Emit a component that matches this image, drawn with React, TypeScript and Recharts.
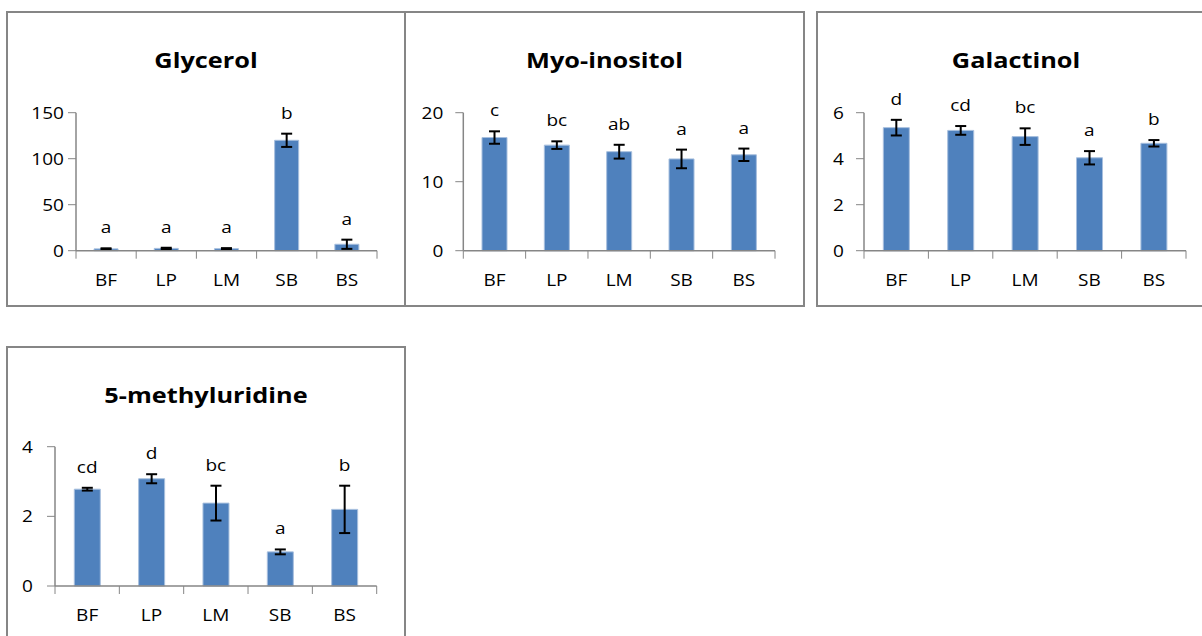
import React from "react";
import { ComposedChart, Bar, Line, XAxis, YAxis, ErrorBar, LabelList } from "recharts";

const groups = ["BF", "LP", "LM", "SB", "BS"];

const glycerolMean = [2.0, 2.5, 2.2, 120, 7];
const glycerolErr = [0.6, 0.7, 0.6, 7.2, 5];
const glycerolLetters = ["a", "a", "a", "b", "a"];
const glycerolTicks = [0, 50, 100, 150];

const myoMean = [16.4, 15.3, 14.35, 13.3, 13.9];
const myoErr = [0.9, 0.55, 1.0, 1.35, 0.9];
const myoLetters = ["c", "bc", "ab", "a", "a"];
const myoTicks = [0, 10, 20];

const galMean = [5.35, 5.23, 4.96, 4.04, 4.67];
const galErr = [0.34, 0.19, 0.36, 0.29, 0.14];
const galLetters = ["d", "cd", "bc", "a", "b"];
const galTicks = [0, 2, 4, 6];

const muMean = [2.78, 3.08, 2.38, 0.98, 2.2];
const muErr = [0.04, 0.13, 0.5, 0.07, 0.68];
const muLetters = ["cd", "d", "bc", "a", "b"];
const muTicks = [0, 2, 4];

const FONT = "'Open Sans', 'DejaVu Sans', sans-serif";
const GRAY = "#868686";
const BLUE = "#4F81BD";
const STRETCH = 1.12; // the text in these charts is set slightly wide

// plain text, widened around its anchor point
function WideText({ x, y, anchor, children, dy }: any) {
  return (
    <text
      transform={`translate(${x},${y}) scale(${STRETCH},1)`}
      textAnchor={anchor}
      dy={dy}
      fontSize={17}
      fontFamily={FONT}
      fill="#000"
    >
      {children}
    </text>
  );
}

type PanelProps = {
  title: string;
  mean: number[];
  err: number[];
  letters: string[];
  ticks: number[];
  box: number[]; // x, y, w, h of the framed panel
  plot: number[]; // left, top, right, bottom of the plot area
  labelGap: number;
};

function Panel({ title, mean, err, letters, ticks, box, plot, labelGap }: PanelProps) {
  const [bx, by, bw, bh] = box;
  const [px0, py0, px1, py1] = plot;
  const rows = groups.map((g, i) => ({
    group: g,
    mean: mean[i],
    err: err[i],
    top: mean[i] + err[i],
    letter: letters[i],
  }));
  const band = (px1 - px0) / groups.length;
  const axisY = py1 - by;

  const GroupTick = (props: any) => {
    const { x, payload, index } = props;
    return (
      <g>
        <line x1={x - band / 2} x2={x - band / 2} y1={axisY} y2={axisY + 8} stroke={GRAY} />
        {index === groups.length - 1 && (
          <line x1={x + band / 2} x2={x + band / 2} y1={axisY} y2={axisY + 8} stroke={GRAY} />
        )}
        <WideText x={x} y={axisY + 35} anchor="middle">
          {payload.value}
        </WideText>
      </g>
    );
  };

  const ValueTick = (props: any) => {
    const { x, y, payload } = props;
    return (
      <WideText x={x} y={y} anchor="end" dy="0.355em">
        {payload.value}
      </WideText>
    );
  };

  const Letter = (props: any) => {
    const vb = props.viewBox || {};
    const cx = (vb.x ?? props.x) + (vb.width || 0) / 2;
    const cy = vb.y ?? props.y;
    return (
      <WideText x={cx} y={cy - 15} anchor="middle">
        {props.value}
      </WideText>
    );
  };

  return (
    <>
      <div
        style={{
          position: "absolute",
          left: bx,
          top: by + 33,
          width: bw,
          textAlign: "center",
          fontFamily: FONT,
          fontWeight: 700,
          fontSize: 22,
          lineHeight: "30px",
          color: "#000",
          transform: "scaleX(1.15)",
        }}
      >
        {title}
      </div>
      <div style={{ position: "absolute", left: bx, top: by }}>
        <ComposedChart
          width={bw}
          height={bh}
          data={rows}
          margin={{ top: py0 - by, right: bx + bw - px1, bottom: 0, left: 0 }}
          barCategoryGap="30%"
        >
          <XAxis
            dataKey="group"
            height={by + bh - py1}
            axisLine={{ stroke: GRAY, strokeWidth: 1.5 }}
            tickLine={false}
            tickSize={8}
            tickMargin={0}
            tick={<GroupTick />}
            interval={0}
          />
          <YAxis
            width={px0 - bx}
            domain={[0, ticks[ticks.length - 1]]}
            ticks={ticks}
            axisLine={{ stroke: GRAY, strokeWidth: 1.5 }}
            tickLine={{ stroke: GRAY }}
            tickSize={8}
            tickMargin={labelGap}
            tick={<ValueTick />}
          />
          <Bar dataKey="mean" fill={BLUE} stroke="#A7BFDE" strokeWidth={1} isAnimationActive={false}>
            <ErrorBar dataKey="err" width={5.5} stroke="#000" strokeWidth={2} />
          </Bar>
          <Line dataKey="top" stroke="none" dot={false} activeDot={false} isAnimationActive={false}>
            <LabelList dataKey="letter" content={<Letter />} />
          </Line>
        </ComposedChart>
      </div>
      <div
        style={{
          position: "absolute",
          left: bx,
          top: by,
          width: bw,
          height: bh,
          boxSizing: "border-box",
          border: `2px solid ${GRAY}`,
          pointerEvents: "none",
        }}
      />
    </>
  );
}

export default function App() {
  return (
    <div
      style={{
        position: "absolute",
        left: 0,
        top: 0,
        width: 1202,
        height: 636,
        overflow: "hidden",
        background: "#fff",
      }}
    >
      <Panel
        title="Glycerol"
        mean={glycerolMean}
        err={glycerolErr}
        letters={glycerolLetters}
        ticks={glycerolTicks}
        box={[6, 11, 400, 296]}
        plot={[76, 112.7, 377, 250.7]}
        labelGap={4}
      />
      <Panel
        title="Myo-inositol"
        mean={myoMean}
        err={myoErr}
        letters={myoLetters}
        ticks={myoTicks}
        box={[404, 11, 401, 296]}
        plot={[463.3, 112.7, 775, 250.7]}
        labelGap={12}
      />
      <Panel
        title="Galactinol"
        mean={galMean}
        err={galErr}
        letters={galLetters}
        ticks={galTicks}
        box={[816, 11, 400, 296]}
        plot={[864, 112.7, 1186, 250.7]}
        labelGap={12}
      />
      <Panel
        title="5-methyluridine"
        mean={muMean}
        err={muErr}
        letters={muLetters}
        ticks={muTicks}
        box={[6, 346, 400, 310]}
        plot={[55, 446.7, 376.7, 586]}
        labelGap={14}
      />
    </div>
  );
}
